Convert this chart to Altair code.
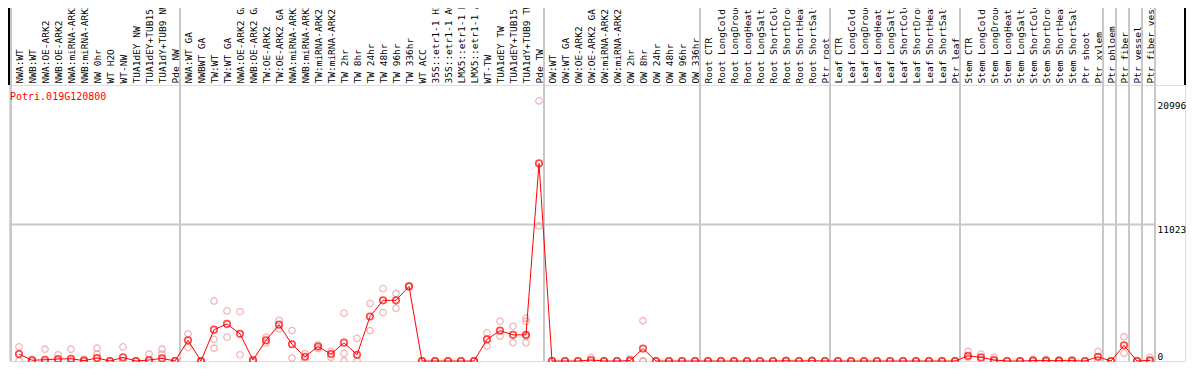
import json
import altair as alt
import pandas as pd

gene = "Potri.019G120800"

labels = [
    "NWA:WT", "NWB:WT", "NWA:OE-ARK2", "NWB:OE-ARK2", "NWA:miRNA-ARK2", "NWB:miRNA-ARK2",
    "NW 0hr", "WT H2O", "WT-NW", "TUA1dEY NW", "TUA1dEY+TUB15 NW", "TUA1dY+TUB9 NW", "Pde NW",
    "NWA:WT GA", "NWBWT GA", "TW:WT", "TW:WT GA", "NWA:OE-ARK2 GA", "NWB:OE-ARK2 GA",
    "TW:OE-ARK2", "TW:OE-ARK2 GA", "NWA:miRNA-ARK2 GA", "NWB:miRNA-ARK2 GA", "TW:miRNA-ARK2",
    "TW:miRNA-ARK2 GA", "TW 2hr", "TW 8hr", "TW 24hr", "TW 48hr", "TW 96hr", "TW 336hr",
    "WT ACC", "35S::etr1-1 H2O", "35S::etr1-1 ACC", "LMX5::etr1-1 H2O", "LMX5::etr1-1 ACC",
    "WT-TW", "TUA1dEY TW", "TUA1dEY+TUB15 TW", "TUA1dY+TUB9 TW", "Pde TW",
    "OW:WT", "OW:WT GA", "OW:OE-ARK2", "OW:OE-ARK2 GA", "OW:miRNA-ARK2", "OW:miRNA-ARK2 GA",
    "OW 2hr", "OW 8hr", "OW 24hr", "OW 48hr", "OW 96hr", "OW 336hr",
    "Root CTR", "Root LongCold", "Root LongDrought", "Root LongHeat", "Root LongSalt",
    "Root ShortCold", "Root ShortDrought", "Root ShortHeat", "Root ShortSalt", "Ptr root",
    "Leaf CTR", "Leaf LongCold", "Leaf LongDrought", "Leaf LongHeat", "Leaf LongSalt",
    "Leaf ShortCold", "Leaf ShortDrought", "Leaf ShortHeat", "Leaf ShortSalt", "Ptr leaf",
    "Stem CTR", "Stem LongCold", "Stem LongDrought", "Stem LongHeat", "Stem LongSalt",
    "Stem ShortCold", "Stem ShortDrought", "Stem ShortHeat", "Stem ShortSalt", "Ptr shoot",
    "Ptr xylem", "Ptr phloem", "Ptr fiber", "Ptr vessel", "Ptr fiber vessel",
]

group_sizes = [13, 28, 12, 10, 10, 11, 1, 1, 1, 1]

mean_vals = [
    560, 60, 100, 160, 180, 30, 240, 0, 290, 0, 80, 210, 0,
    1670, 0, 2530, 2990, 2190, 80, 1670, 2930, 1350, 340, 1165, 555, 1480, 500,
    3590, 4900, 4900, 6020, 0, 0, 0, 0, 0, 1740, 2450, 2110, 2110, 15950,
    0, 0, 0, 80, 0, 0, 30, 1000, 0, 0, 0, 0,
    0, 0, 0, 0, 0, 0, 20, 0, 20, 0,
    0, 0, 0, 0, 0, 0, 0, 0, 0, 0,
    420, 290, 80, 0, 0, 30, 30, 30, 30, 0, 340,
    0, 1270, 0, 50,
]

rep_a = [
    1135, 150, 950, 500, 950, 160, 1030, 0, 1135, 0, 555, 950, 0,
    2190, 0, 4840, 4040, 3990, 0, 1900, 3280, 2460, 600, 1300, 770, 3860, 1820,
    4650, 5840, 5450, 6020, 0, 0, 0, 0, 0, 2270, 3200, 2800, 3460, 20996,
    0, 0, 0, 290, 0, 0, 160, 3250, 0, 0, 0, 0,
    0, 0, 0, 0, 0, 0, 40, 0, 40, 0,
    0, 0, 0, 0, 0, 0, 0, 0, 0, 0,
    770, 550, 290, 0, 0, 130, 130, 60, 60, 0, 770,
    0, 1960, 0, 290,
]

rep_b = [
    0, 0, 0, 0, 0, 0, 555, 0, 0, 0, 0, 555, 0,
    1085, 0, 1740, 1930, 500, 0, 1450, 2600, 240, 100, 1000, 300, 610, 0,
    2460, 3910, 4260, 6020, 0, 0, 0, 0, 0, 1210, 2000, 1480, 3200, 10900,
    0, 0, 0, 0, 0, 0, 0, 0, 0, 0, 0, 0,
    0, 0, 0, 0, 0, 0, 0, 0, 0, 0,
    0, 0, 0, 0, 0, 0, 0, 0, 0, 0,
    300, 100, 0, 0, 0, 0, 0, 0, 0, 0, 0,
    0, 630, 0, 0,
]

rep_c = {16: 1030, 26: 0, 40: 2000, 49: 0}
rep_d = {40: 1480}

y_ticks = [0, 11023, 20996]

RED = "#ff0000"
PINK = "#ee9a9a"
GRAY = "#c8c8c8"
FONT = "DejaVu Sans Mono"

W, H = 1176, 276
TOP = 77
n = len(labels)
pos = list(range(1, n + 1))

df = pd.DataFrame({"pos": pos, "label": labels, "mean": mean_vals})
rows = []
for i in range(n):
    rows.append({"pos": i + 1, "v": rep_a[i]})
    rows.append({"pos": i + 1, "v": rep_b[i]})
for d in (rep_c, rep_d):
    for k, v in d.items():
        rows.append({"pos": k, "v": v})
reps = pd.DataFrame(rows)

bounds = [0]
for g in group_sizes:
    bounds.append(bounds[-1] + g)
sep = pd.DataFrame({"b": [b + 0.5 - 1.5 / 13 for b in bounds]})

xs = alt.Scale(domain=[3 / 13, (W + 3) / 13], nice=False, zero=False)
ys = alt.Scale(domain=[0, 22280], nice=False, zero=False)

label_expr = json.dumps(labels) + "[datum.value - 1]"

x_axis = alt.Axis(
    orient="top", values=pos, labelExpr=label_expr, labelAngle=-90,
    labelAlign="left", labelBaseline="middle", labelPadding=2,
    ticks=False, domain=False, grid=False, labelFont=FONT, labelFontSize=9.5,
    labelColor="black", title=None, labelOverlap=False, labelFlush=False,
    labelLimit=400,
)
y_axis = alt.Axis(
    orient="right", values=y_ticks, format="d", offset=-29, ticks=False, tickSize=0,
    domain=False, grid=False, labelPadding=1, labelFont=FONT, labelFontSize=9.5,
    labelColor="black", labelAlign="left", title=None, labelFlush=False,
    labelOverlap=False,
    labelBaseline={"condition": {"test": "datum.value == 0", "value": "bottom"}, "value": "top"},
)

X = lambda f: alt.X(f, scale=xs, axis=x_axis)
Y = lambda f: alt.Y(f, scale=ys, axis=y_axis)

separators = alt.Chart(sep).mark_rule(color=GRAY, strokeWidth=2).encode(
    x=X("b:Q"),
    y=alt.value(-TOP), y2=alt.value(H),
)

grid = alt.Chart(pd.DataFrame({"t": [y_ticks[1]]})).mark_rule(color=GRAY, strokeWidth=2).encode(
    y=Y("t:Q"),
    x=alt.value(0), x2=alt.value(W - 30),
)

frame = alt.Chart(pd.DataFrame({"s": [0]})).mark_rule(color="black", strokeWidth=2).encode(
    x=alt.value(0), y=alt.value(-TOP), y2=alt.value(0),
)
frame_r = alt.Chart(pd.DataFrame({"s": [W]})).mark_rule(color="black", strokeWidth=2).encode(
    x=alt.value(W), y=alt.value(-TOP), y2=alt.value(0),
)

rep_pts = alt.Chart(reps).mark_point(
    shape="circle", filled=False, color=PINK, size=42, strokeWidth=1.3
).encode(x=X("pos:Q"), y=Y("v:Q"))

line = alt.Chart(df).mark_line(color=RED, strokeWidth=1).encode(
    x=X("pos:Q"), y=Y("mean:Q"),
)

mean_pts = alt.Chart(df).mark_point(
    shape="circle", filled=False, color=RED, size=42, strokeWidth=1.7
).encode(x=X("pos:Q"), y=Y("mean:Q"))

title = alt.Chart(pd.DataFrame({"t": [gene]})).mark_text(
    align="left", baseline="middle", font=FONT, fontSize=10, color=RED
).encode(
    text="t:N", x=alt.value(1), y=alt.value(12),
)

chart = alt.layer(
    separators, grid, frame, frame_r, rep_pts, line, mean_pts, title
).properties(
    width=W, height=H,
    padding={"left": 1, "right": 1, "top": TOP, "bottom": 1},
    autosize=alt.AutoSizeParams(type="none"),
).configure_view(
    stroke="black", strokeWidth=2
).configure_axis(
    labelOverlap=False
).configure(background="white")

chart.save("out.html", embed_options={"renderer": "svg", "actions": False})
